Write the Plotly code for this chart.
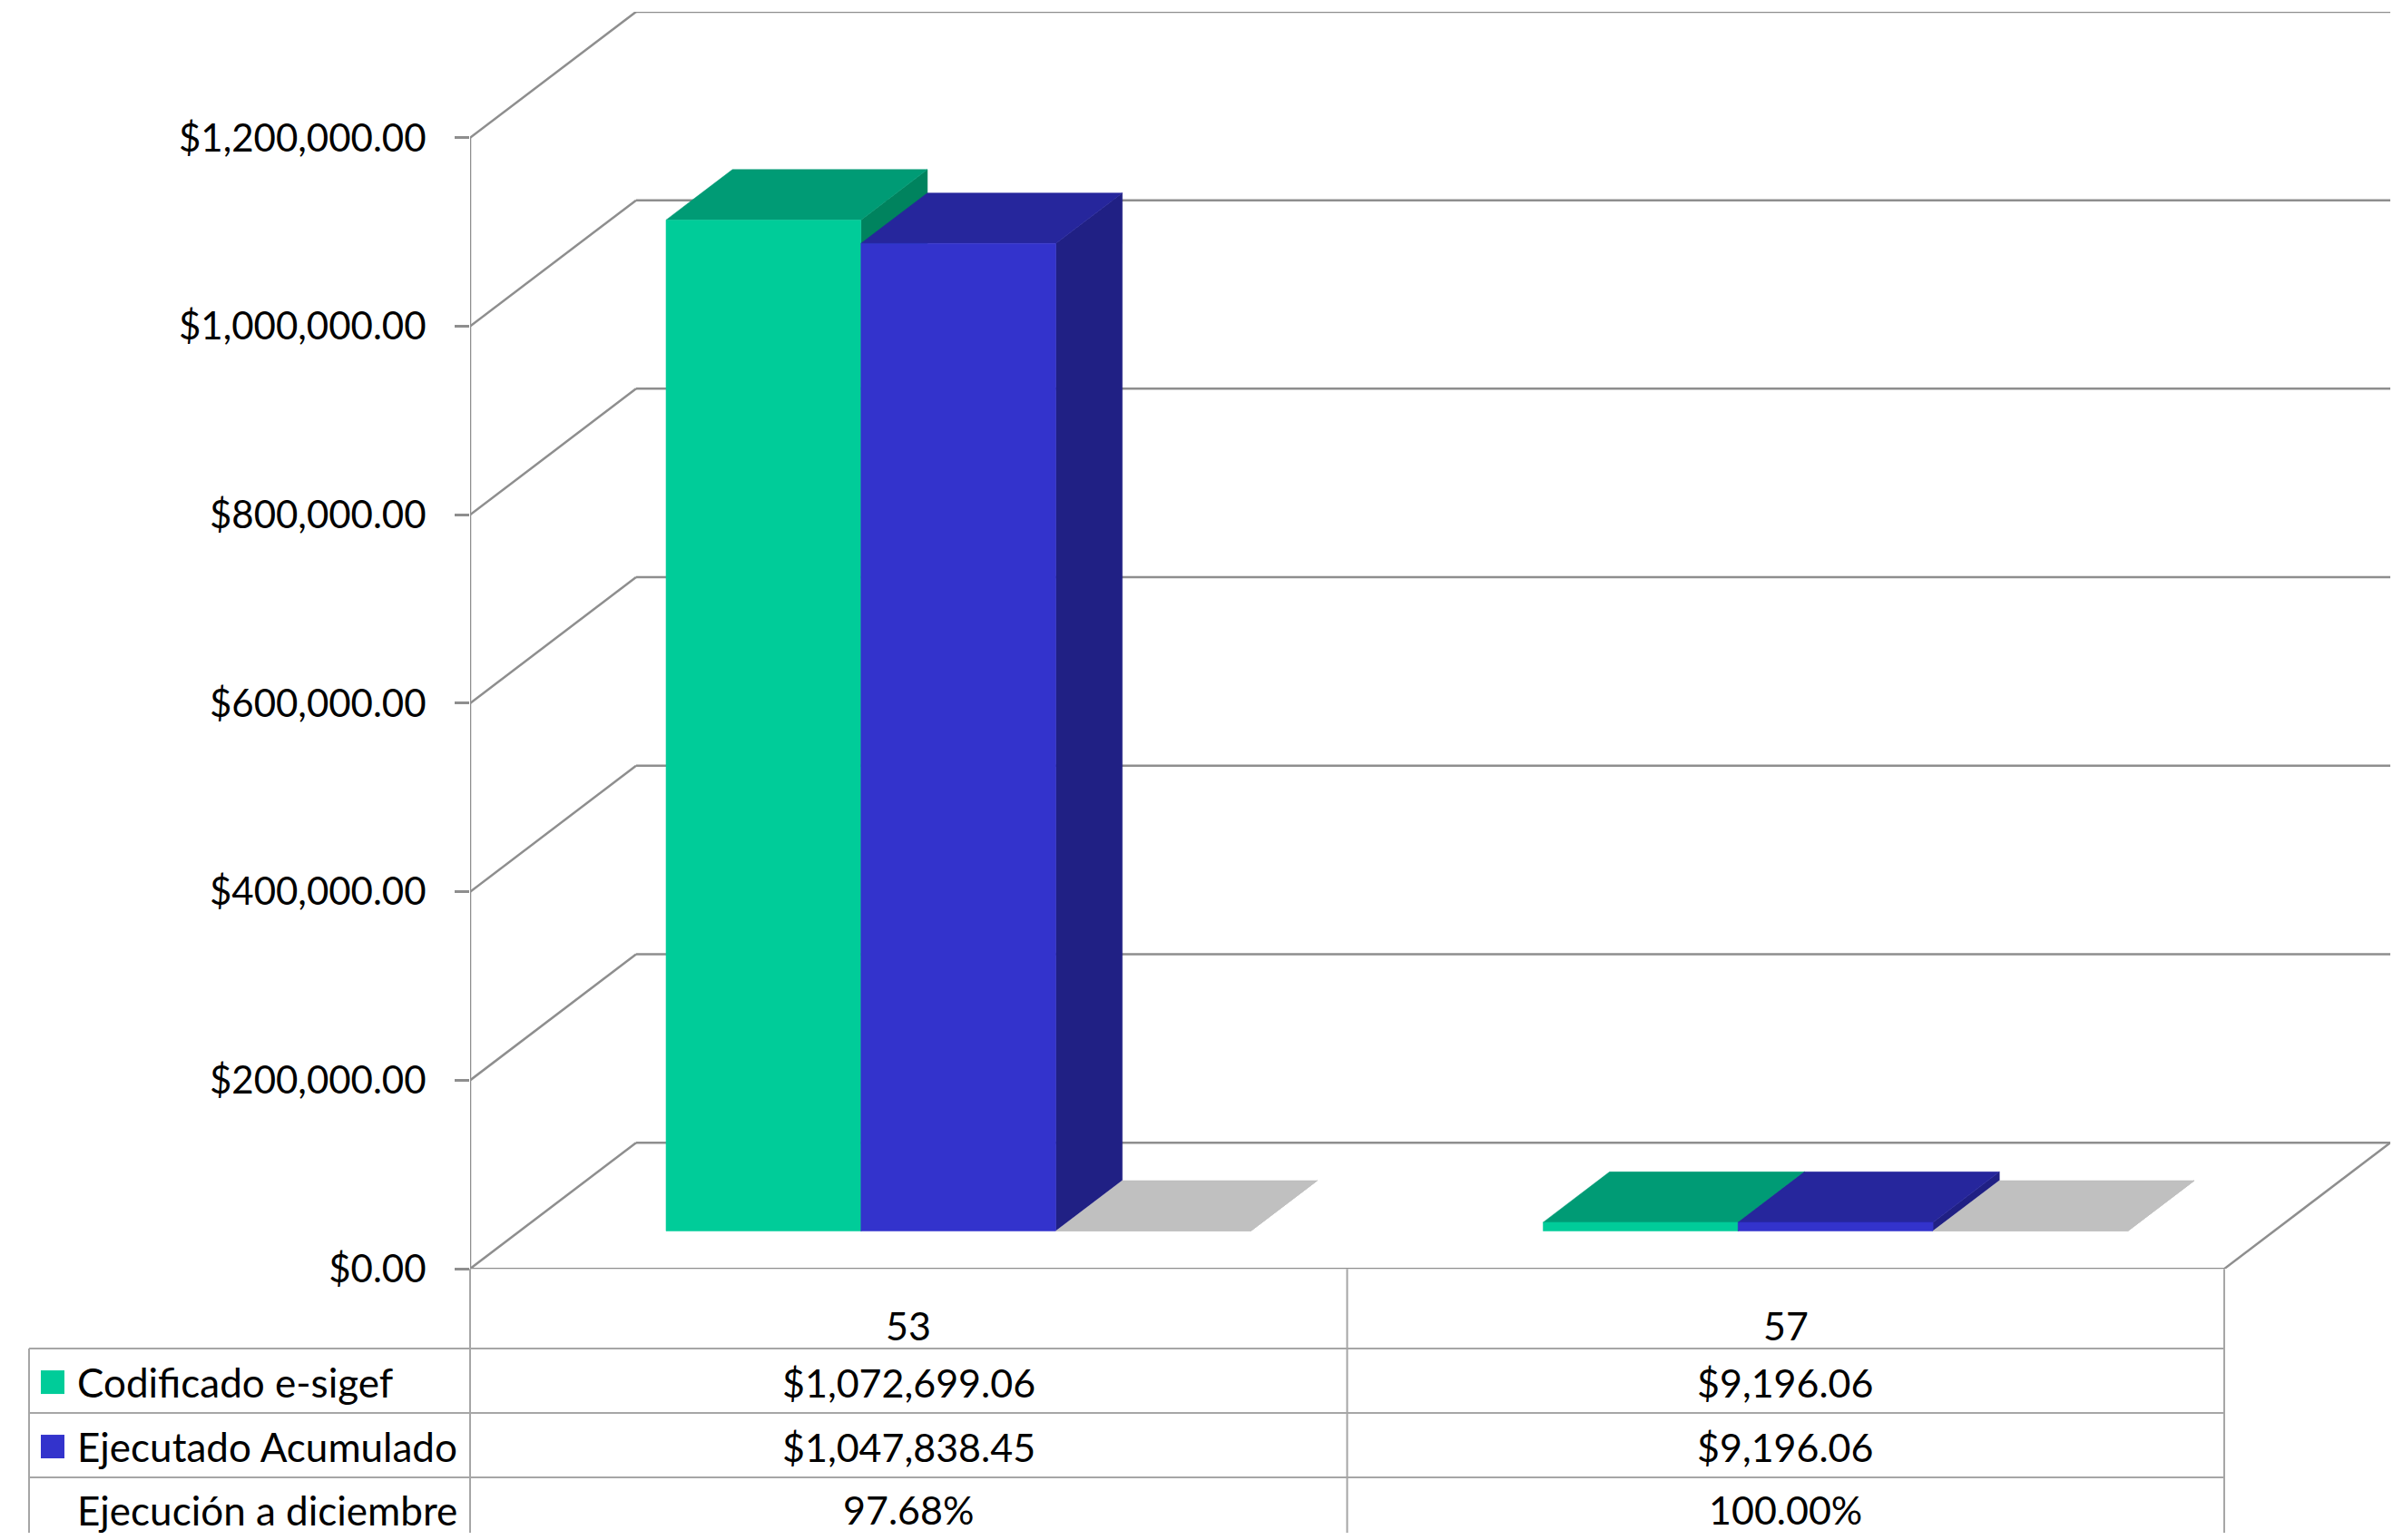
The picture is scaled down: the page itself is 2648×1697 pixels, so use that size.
import plotly.graph_objects as go

# ---------------- data ----------------
categories = ["53", "57"]
series_names = ["Codificado e-sigef", "Ejecutado Acumulado", "Ejecución a diciembre"]
codificado = [1072699.06, 9196.06]
ejecutado = [1047838.45, 9196.06]
ejecucion = [0.9768, 1.0000]
tick_values = [0, 200000, 400000, 600000, 800000, 1000000, 1200000]
tick_labels = ["${:,.2f}".format(v) for v in tick_values]

# ---------------- style ----------------
SCREEN_W, SCREEN_H = 2648, 1697
OFF = 8                      # default page body margin
W, H = SCREEN_W - 2 * OFF, SCREEN_H - 2 * OFF
FONT = "Lato"
FS = 43
FS_TICK = 42
FS_LABEL = 44
front_cols = ["#00CC99", "#3333CC", "#C0C0C0"]
top_cols = ["#009B75", "#26269C", "#C0C0C0"]
side_cols = ["#00835E", "#202084", "#A8A8A8"]
grid_col = "#8E8E8E"
table_col = "#A6A6A6"

# layout in screen pixels (plot geometry)
X_LEFT, X_RIGHT_BACK = 518, 2634
Y_ZERO, Y_TOP_BACK = 1401, 15
DX_UNITS = 0.1893           # depth shift in category units
YMAX = max(tick_values)
DZ = YMAX * 139.0 / 1247.0  # depth shift in value units
F1, F2 = 0.30, 0.70         # bar depth position (front / back)
N_SER = 3
GROUP = 2.0 / 3.0
BW = GROUP / N_SER
VS, VO = 1.0139, -2.2        # vertical calibration of the capture

def px(x):
    return (x - OFF) / W

def py(y):
    return 1 - (VS * y + VO - OFF) / H

fig = go.Figure()

shapes = []
gl = dict(color=grid_col, width=2.5)
ncat = len(categories)
# walls: side diagonals + back gridlines
for v in tick_values:
    shapes.append(dict(type="line", xref="x", yref="y", x0=-0.5, y0=v, x1=-0.5 + DX_UNITS, y1=v + DZ,
                       line=gl, layer="below"))
    shapes.append(dict(type="line", xref="x", yref="y", x0=-0.5 + DX_UNITS, y0=v + DZ,
                       x1=ncat - 0.5 + DX_UNITS, y1=v + DZ, line=gl, layer="below"))
# floor front edge and right diagonal
shapes.append(dict(type="line", xref="x", yref="y", x0=-0.5, y0=0, x1=ncat - 0.5, y1=0,
                   line=gl, layer="below"))
shapes.append(dict(type="line", xref="x", yref="y", x0=ncat - 0.5, y0=0, x1=ncat - 0.5 + DX_UNITS, y1=DZ,
                   line=gl, layer="below"))
# value axis line
shapes.append(dict(type="line", xref="x", yref="y", x0=-0.5, y0=0, x1=-0.5, y1=YMAX,
                   line=gl, layer="below"))

# ---------------- 3D bars ----------------
all_series = [codificado, ejecutado, ejecucion]

def poly(xs, ys, color):
    fig.add_trace(go.Scatter(x=xs + [xs[0]], y=ys + [ys[0]], mode="lines", fill="toself",
                             fillcolor=color, line=dict(color=color, width=0.5),
                             hoverinfo="skip", showlegend=False))

for ci in range(ncat):
    for si, vals in enumerate(all_series):
        v = vals[ci]
        x0 = ci - GROUP / 2 + si * BW
        x1 = x0 + BW
        xf0, xf1 = x0 + F1 * DX_UNITS, x1 + F1 * DX_UNITS
        xb0, xb1 = x0 + F2 * DX_UNITS, x1 + F2 * DX_UNITS
        bf, tf = F1 * DZ, v + F1 * DZ
        bb, tb = F2 * DZ, v + F2 * DZ
        poly([xf1, xf1, xb1, xb1], [bf, tf, tb, bb], side_cols[si])      # side
        poly([xf0, xf1, xb1, xb0], [tf, tf, tb, tb], top_cols[si])       # top
        if v > 0:
            poly([xf0, xf1, xf1, xf0], [bf, bf, tf, tf], front_cols[si])  # front

# ---------------- data table ----------------
TX_LEFT = 32
X_FRONT_RIGHT = 2451
row_lines = [1401, 1489, 1560, 1631]
unit_px = (X_FRONT_RIGHT - X_LEFT) / ncat
col_edges = [X_LEFT + unit_px * i for i in range(ncat + 1)]
tline = dict(color=table_col, width=2)
for yl in row_lines[1:]:
    shapes.append(dict(type="line", xref="paper", yref="paper", x0=px(TX_LEFT), x1=px(X_FRONT_RIGHT),
                       y0=py(yl), y1=py(yl), line=tline))
shapes.append(dict(type="line", xref="paper", yref="paper", x0=px(TX_LEFT), x1=px(TX_LEFT),
                   y0=py(row_lines[1]), y1=py(SCREEN_H + 40), line=tline))
for xe in col_edges:
    shapes.append(dict(type="line", xref="paper", yref="paper", x0=px(xe), x1=px(xe),
                       y0=py(Y_ZERO), y1=py(SCREEN_H + 40), line=tline))

annotations = []
cat_y = 1463
row_y = [1526, 1597, 1667]
tf_ = dict(family=FONT, size=FS, color="black")
for ci, c in enumerate(categories):
    cx = (col_edges[ci] + col_edges[ci + 1]) / 2
    annotations.append(dict(x=px(cx), y=py(cat_y), xref="paper", yref="paper", text=c, showarrow=False,
                            xanchor="center", yanchor="middle", font=tf_))
    texts = ["${:,.2f}".format(codificado[ci]), "${:,.2f}".format(ejecutado[ci]),
             "{:.2f}%".format(ejecucion[ci] * 100)]
    for ri, t in enumerate(texts):
        annotations.append(dict(x=px(cx), y=py(row_y[ri]), xref="paper", yref="paper", text=t,
                                showarrow=False, xanchor="center", yanchor="middle", font=tf_))

for ri, name in enumerate(series_names):
    annotations.append(dict(x=px(83), y=py(row_y[ri]), xref="paper", yref="paper", text=name,
                            showarrow=False, xanchor="left", yanchor="middle",
                            font=dict(family=FONT, size=FS_LABEL, color="black")))
    if ri < 2:
        shapes.append(dict(type="rect", xref="paper", yref="paper", x0=px(45), x1=px(71),
                           y0=py(row_y[ri] + 13), y1=py(row_y[ri] - 13),
                           fillcolor=front_cols[ri], line=dict(width=0)))

fig.update_layout(
    width=W, height=H, autosize=False,
    margin=dict(l=0, r=0, t=0, b=0),
    paper_bgcolor="white", plot_bgcolor="white",
    showlegend=False,
    shapes=shapes, annotations=annotations,
    xaxis=dict(domain=[px(X_LEFT), px(X_RIGHT_BACK)], range=[-0.5, ncat - 0.5 + DX_UNITS],
               visible=False, fixedrange=True),
    yaxis=dict(domain=[py(Y_ZERO), py(Y_TOP_BACK)], range=[0, YMAX + DZ],
               showgrid=False, zeroline=False, showline=False,
               tickmode="array", tickvals=tick_values, ticktext=tick_labels,
               ticks="outside", ticklen=16, tickwidth=2.5, tickcolor=grid_col,
               ticklabelstandoff=23,
               tickfont=dict(family=FONT, size=FS_TICK, color="black"), fixedrange=True),
)

fig.write_html("out.html")
